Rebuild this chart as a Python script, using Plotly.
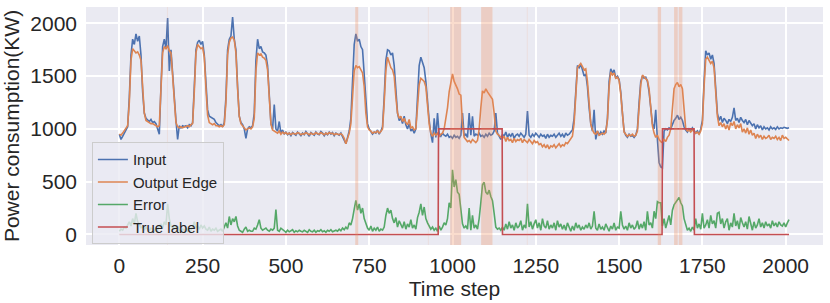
import numpy as np
import plotly.graph_objects as go

# time steps of sampled values (every 5 steps)
t_sample = list(range(0, 2011, 5))

input_vals = [
    950, 900, 930, 960, 990, 1020, 1300, 1700, 1850, 1800,
    1900, 1830, 1880, 1700, 1350, 1150, 1100, 1080, 1070, 1090,
    1060, 1070, 1050, 1000, 950, 1400, 1780, 1850, 1760, 2050,
    1550, 1750, 1500, 1250, 1080, 900, 1030, 1010, 1030, 1020,
    1030, 1010, 1040, 1030, 1060, 1400, 1750, 1820, 1840, 1800,
    1830, 1700, 1400, 1180, 1120, 1110, 1100, 1090, 1060, 1040,
    1030, 1040, 1020, 1060, 1300, 1750, 1850, 1880, 2060, 1850,
    1750, 1400, 1120, 1060, 1040, 1000, 910, 1000, 1020, 1010,
    1030, 1150, 1650, 1850, 1760, 1780, 1730, 1720, 1700, 1600,
    1300, 1050, 1000, 1230, 1000, 980, 1070, 960, 990, 950,
    970, 945, 960, 935, 965, 950, 940, 970, 955, 935,
    960, 945, 975, 950, 930, 965, 955, 940, 970, 950,
    945, 975, 960, 935, 960, 945, 970, 950, 965, 935,
    960, 950, 940, 960, 930, 900, 860, 920, 980, 1100,
    1450, 1800, 1900, 1830, 1850, 1780, 1750, 1500, 1200, 1050,
    1000, 980, 950, 970, 960, 990, 950, 980, 1020, 1300,
    1650, 1750, 1740, 1700, 1720, 1600, 1350, 1150, 1080, 1100,
    1050, 1120, 1040, 1000, 1050, 980, 1000, 960, 1000, 1250,
    1600, 1680, 1620, 1580, 1450, 1250, 1080, 950, 870, 1100,
    920, 1150, 950, 930, 960, 940, 930, 950, 920, 930,
    910, 940, 920, 930, 910, 940, 1150, 930, 950, 920,
    1150, 940, 1120, 930, 950, 940, 960, 930, 940, 920,
    950, 930, 960, 940, 950, 980, 1150, 960, 930, 900,
    950, 930, 970, 920, 950, 930, 960, 910, 940, 950,
    930, 960, 940, 920, 950, 1170, 940, 920, 950, 930,
    960, 940, 920, 950, 930, 940, 910, 950, 920, 940,
    930, 950, 920, 940, 960, 930, 950, 920, 960, 940,
    950, 970, 990, 1100, 1400, 1600, 1580, 1610, 1560, 1500,
    1520, 1400, 1200, 1050, 980, 1180, 900, 980, 940, 970,
    950, 980, 960, 1100, 1450, 1570, 1530, 1560, 1480, 1500,
    1470, 1350, 1150, 980, 940, 920, 950, 930, 940, 920,
    940, 1000, 1250, 1450, 1500, 1480, 1490, 1450, 1350, 1200,
    1050, 1000, 1180, 900, 680, 640, 630, 980, 1000, 990,
    1010, 1000, 1050, 1080, 1100, 1130, 1090, 1110, 1080, 1020,
    990, 970, 1000, 980, 1010, 990, 960, 980, 950, 1000,
    1080, 1450, 1740, 1700, 1720, 1660, 1700, 1620, 1400, 1150,
    1080, 1120, 1060, 1100, 1080, 1050, 1090, 1070, 1110, 1200,
    1080, 1100, 1060, 1110, 1080, 1060, 1090, 1040, 1080, 1060,
    1030, 1050, 1000, 1040, 1010, 1030, 990, 1020, 1000, 1010,
    990, 1020, 1000, 1010, 995, 1020, 1000, 1010, 1005, 1015,
    1010, 1005, 1010,
]

output_vals = [
    950, 940, 960, 980, 1000, 1030, 1250, 1650, 1760, 1740,
    1720, 1730, 1700, 1650, 1350, 1150, 1080, 1070, 1060, 1050,
    1050, 1040, 1030, 1020, 1030, 1350, 1720, 1780, 1760, 1790,
    1740, 1720, 1470, 1200, 1060, 1020, 1010, 1020, 1010, 1020,
    1020, 1030, 1020, 1040, 1050, 1350, 1720, 1800, 1780, 1760,
    1770, 1680, 1380, 1130, 1060, 1050, 1040, 1050, 1030, 1030,
    1020, 1030, 1020, 1040, 1250, 1700, 1820, 1860, 1870, 1840,
    1720, 1380, 1120, 1050, 1030, 1000, 990, 1000, 1010, 1000,
    1020, 1100, 1550, 1720, 1700, 1710, 1680, 1670, 1650, 1560,
    1280, 1050, 990, 980, 970, 960, 980, 950, 970, 955,
    965, 950, 960, 945, 960, 955, 950, 965, 960, 945,
    955, 950, 965, 955, 945, 960, 950, 950, 965, 955,
    950, 965, 955, 945, 960, 950, 965, 955, 960, 945,
    955, 950, 945, 955, 940, 910, 860, 910, 960, 1050,
    1350, 1550, 1600, 1580, 1590, 1560, 1530, 1400, 1150, 1020,
    990, 980, 960, 970, 965, 980, 960, 975, 1000, 1250,
    1550, 1680, 1620, 1580, 1560, 1500, 1300, 1150, 1100, 1120,
    1070, 1100, 1060, 1040, 1090, 1010, 1020, 990, 1000, 1200,
    1420, 1480, 1460, 1450, 1400, 1200, 1050, 960, 930, 960,
    940, 960, 930, 950, 960, 1000, 1100, 1200, 1350, 1420,
    1520, 1450, 1420, 1380, 1330, 1320, 1050, 920, 900, 880,
    890, 870, 900, 880, 870, 890, 1000, 1200, 1360, 1340,
    1380, 1350, 1330, 1300, 1280, 1150, 980, 950, 940, 920,
    910, 930, 880, 920, 890, 900, 870, 910, 880, 900,
    890, 910, 870, 900, 880, 870, 900, 880, 860, 890,
    870, 880, 850, 860, 830, 850, 820, 850, 810, 840,
    830, 850, 820, 840, 860, 830, 850, 840, 870, 860,
    880, 900, 930, 1050, 1350, 1580, 1600, 1620, 1590, 1560,
    1570, 1450, 1250, 1050, 990, 960, 950, 980, 940, 950,
    960, 950, 970, 1080, 1400, 1540, 1510, 1530, 1480, 1490,
    1460, 1330, 1130, 970, 950, 930, 945, 935, 950, 930,
    940, 980, 1200, 1420, 1510, 1490, 1470, 1460, 1380, 1200,
    1030, 960, 920, 940, 900, 880, 870, 900, 880, 920,
    940, 1000, 1200, 1380, 1420, 1440, 1400, 1420, 1380, 1200,
    1000, 980, 990, 970, 990, 980, 960, 970, 950, 980,
    1050, 1400, 1660, 1680, 1650, 1620, 1640, 1580, 1350, 1120,
    1030, 1060, 1020, 1050, 1000, 1040, 990, 1060, 1030, 1070,
    1000, 1040, 1010, 1050, 970, 1000, 960, 1010, 950, 990,
    940, 960, 910, 950, 920, 940, 900, 930, 910, 920,
    940, 900, 920, 910, 930, 900, 920, 890, 940, 910,
    920, 900, 890,
]

error_vals = [
    30, 50, 40, 70, 60, 90, 120, 80, 150, 100,
    200, 120, 100, 60, 80, 40, 70, 50, 40, 60,
    50, 30, 60, 40, 80, 100, 60, 120, 90, 290,
    150, 80, 60, 90, 50, 80, 40, 30, 50, 40,
    60, 30, 50, 40, 70, 120, 60, 80, 50, 90,
    60, 80, 50, 40, 70, 30, 50, 40, 60, 30,
    40, 50, 30, 70, 110, 60, 170, 90, 150, 120,
    170, 80, 40, 30, 20, 50, 70, 30, 40, 30,
    30, 60, 50, 90, 140, 60, 40, 50, 60, 40,
    30, 50, 40, 60, 236, 40, 30, 60, 50, 35,
    20, 40, 25, 35, 45, 20, 35, 25, 40, 30,
    25, 40, 30, 20, 45, 30, 25, 40, 20, 35,
    30, 45, 25, 35, 20, 40, 30, 45, 25, 35,
    40, 30, 50, 35, 60, 45, 70, 50, 110, 90,
    150, 240, 323, 230, 290, 200, 250, 150, 100, 60,
    40, 80, 30, 60, 40, 70, 30, 50, 40, 70,
    180, 250, 200, 230, 150, 110, 160, 70, 130, 90,
    60, 120, 50, 100, 70, 140, 60, 90, 50, 160,
    210, 290, 180, 260, 150, 110, 80, 50, 70, 40,
    60, 30, 80, 40, 70, 110, 90, 150, 300, 250,
    613, 450, 520, 400, 380, 260, 100, 60, 80, 50,
    250, 40, 180, 60, 90, 50, 150, 300, 470, 494,
    400, 380, 420, 360, 320, 200, 70, 50, 60, 40,
    70, 40, 100, 50, 120, 60, 90, 40, 110, 60,
    80, 130, 40, 90, 60, 290, 70, 120, 50, 100,
    140, 60, 110, 40, 150, 80, 60, 130, 50, 90,
    60, 110, 40, 130, 70, 100, 50, 90, 40, 110,
    60, 30, 80, 40, 110, 60, 90, 40, 70, 50,
    90, 60, 110, 50, 80, 220, 60, 40, 100, 50,
    70, 40, 100, 60, 30, 80, 50, 110, 40, 70,
    60, 220, 90, 50, 80, 40, 110, 60, 90, 50,
    70, 130, 50, 100, 60, 120, 40, 220, 90, 110,
    60, 220, 150, 310, 300, 300, 80, 150, 60, 120,
    180, 90, 230, 280, 300, 320, 350, 300, 270, 150,
    80, 40, 60, 30, 70, 40, 150, 60, 100, 50,
    200, 60, 90, 140, 60, 180, 100, 130, 60, 200,
    210, 100, 150, 60, 120, 150, 40, 110, 70, 200,
    80, 130, 50, 160, 110, 70, 120, 50, 170, 90,
    40, 120, 60, 90, 150, 70, 110, 60, 120, 80,
    100, 60, 130, 80, 110, 70, 120, 90, 80, 110,
    70, 110, 140,
]

# anomaly (true label) intervals
label_start = [958, 1630]
label_end = [1150, 1726]
label_level = 1000

# detected-anomaly shaded spans
span_start = [143, 708, 926, 993, 1086, 1223, 1616, 1665, 1679]
span_end = [146, 717, 929, 1026, 1120, 1226, 1626, 1676, 1690]
span_alpha = [0.12, 0.3, 0.12, 0.3, 0.3, 0.12, 0.3, 0.3, 0.3]

t_full = np.arange(0, 2011)
label_full = np.zeros(len(t_full))
for s, e in zip(label_start, label_end):
    label_full[(t_full >= s) & (t_full < e)] = label_level

BLUE = "#4c72b0"
ORANGE = "#dd8452"
GREEN = "#55a868"
RED = "#c44e52"

fig = go.Figure()
fig.add_trace(go.Scatter(x=t_sample, y=input_vals, mode="lines", name="Input",
                         line=dict(color=BLUE, width=1.6)))
fig.add_trace(go.Scatter(x=t_sample, y=output_vals, mode="lines", name="Output Edge",
                         line=dict(color=ORANGE, width=1.6)))
fig.add_trace(go.Scatter(x=t_sample, y=error_vals, mode="lines", name="Error",
                         line=dict(color=GREEN, width=1.6)))
fig.add_trace(go.Scatter(x=t_full, y=label_full, mode="lines", name="True label",
                         line=dict(color=RED, width=1.6)))

for s, e, a in zip(span_start, span_end, span_alpha):
    fig.add_vrect(x0=s, x1=e, fillcolor=f"rgba(240,140,90,{a})", line_width=0,
                  layer="above")

FONT = "Liberation Sans, Arial, sans-serif"
fig.update_layout(
    width=830, height=303,
    margin=dict(l=86, r=7, t=7, b=58),
    paper_bgcolor="white",
    plot_bgcolor="#eaeaf2",
    font=dict(family=FONT, size=21, color="#262626"),
    showlegend=True,
    legend=dict(x=0.008, y=0.432, xanchor="left", yanchor="top",
                bgcolor="rgba(234,234,242,0.8)", bordercolor="#cccccc",
                borderwidth=1, font=dict(size=15, color="#262626"),
                tracegroupgap=0),
)
fig.update_xaxes(range=[-100, 2112], tickvals=[0, 250, 500, 750, 1000, 1250, 1500, 1750, 2000],
                 showgrid=True, gridcolor="white", gridwidth=1.5, zeroline=False,
                 showline=False, ticks="", ticklabelstandoff=6, automargin=False,
                 title=dict(text="Time step", font=dict(size=21), standoff=3))
fig.update_yaxes(range=[-100, 2155], tickvals=[0, 500, 1000, 1500, 2000],
                 showgrid=True, gridcolor="white", gridwidth=1.5, zeroline=False,
                 showline=False, ticks="", ticklabelstandoff=8, automargin=False,
                 title=dict(text="Power consumption(KW)", font=dict(size=21), standoff=5))

fig.write_html("out.html", config={"displayModeBar": False},
               post_script="document.body.style.margin='0';document.body.style.overflow='hidden';")
